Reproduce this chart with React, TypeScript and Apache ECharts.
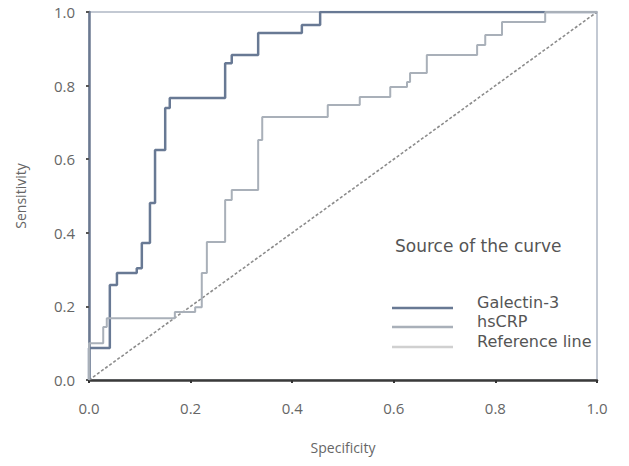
import React, { useEffect, useRef } from "react";
import * as echarts from "echarts";

const xTicks = [0, 0.2, 0.4, 0.6, 0.8, 1.0];
const galectinX = [0, 0, 0.041, 0.041, 0.055, 0.055, 0.094, 0.094, 0.104, 0.104, 0.12, 0.12, 0.13, 0.13, 0.15, 0.15, 0.159, 0.159, 0.268, 0.268, 0.281, 0.281, 0.333, 0.333, 0.419, 0.419, 0.455, 0.455, 1.0];
const galectinY = [0, 0.087, 0.087, 0.258, 0.258, 0.291, 0.291, 0.304, 0.304, 0.372, 0.372, 0.481, 0.481, 0.625, 0.625, 0.739, 0.739, 0.766, 0.766, 0.861, 0.861, 0.883, 0.883, 0.943, 0.943, 0.965, 0.965, 1.0, 1.0];
const hsCrpX = [0, 0, 0.028, 0.028, 0.035, 0.035, 0.169, 0.169, 0.209, 0.209, 0.222, 0.222, 0.232, 0.232, 0.268, 0.268, 0.281, 0.281, 0.333, 0.333, 0.341, 0.341, 0.47, 0.47, 0.533, 0.533, 0.593, 0.593, 0.626, 0.626, 0.632, 0.632, 0.665, 0.665, 0.764, 0.764, 0.78, 0.78, 0.813, 0.813, 0.898, 0.898, 1.0];
const hsCrpY = [0, 0.1, 0.1, 0.144, 0.144, 0.168, 0.168, 0.185, 0.185, 0.198, 0.198, 0.291, 0.291, 0.375, 0.375, 0.489, 0.489, 0.516, 0.516, 0.652, 0.652, 0.715, 0.715, 0.747, 0.747, 0.769, 0.769, 0.796, 0.796, 0.81, 0.81, 0.834, 0.834, 0.883, 0.883, 0.91, 0.91, 0.9375, 0.9375, 0.973, 0.973, 1.0, 1.0];
const referenceX = [0, 1];
const referenceY = [0, 1];
const legendTitle = "Source of the curve";
const seriesNames = ["Galectin-3", "hsCRP", "Reference line"];
const xAxisName = "Specificity";
const yAxisName = "Sensitivity";

const COLORS = ["#687994", "#a9b0b9", "#d0d0d0"];
const FONT = "Open Sans";
const LEGEND_FONT = "DejaVu Sans";

function zip(xs: number[], ys: number[]) {
  return xs.map((x, i) => [x, ys[i]]);
}

export default function App() {
  const ref = useRef<HTMLDivElement>(null);
  useEffect(() => {
    if (!ref.current) return;
    const chart = echarts.init(ref.current, null, { renderer: "svg" });
    const legendLineX0 = 392;
    const legendLineX1 = 453;
    const legendYs = [308, 327, 347];
    chart.setOption({
      animation: false,
      backgroundColor: "#ffffff",
      grid: {
        left: 89,
        right: 32,
        top: 12,
        bottom: 86,
        show: true,
        borderColor: "#c3c9d3",
        borderWidth: 2,
      },
      xAxis: {
        type: "value",
        min: 0,
        max: 1,
        interval: 0.2,
        name: xAxisName,
        nameLocation: "middle",
        nameGap: 60,
        nameTextStyle: { color: "#666", fontSize: 14, fontFamily: FONT },
        axisLine: { show: true, lineStyle: { color: "#3a3a3a", width: 2.5 } },
        axisTick: { show: true, length: 3, lineStyle: { color: "#333", width: 2 } },
        splitLine: { show: false },
        axisLabel: {
          color: "#666",
          fontSize: 15,
          fontFamily: FONT,
          margin: 20,
          formatter: (v: number) => (xTicks.includes(v) ? v.toFixed(1) : ""),
        },
      },
      yAxis: {
        type: "value",
        min: 0,
        max: 1,
        interval: 0.2,
        name: yAxisName,
        nameLocation: "middle",
        nameGap: 62,
        nameRotate: 90,
        nameTextStyle: { color: "#666", fontSize: 14, fontFamily: FONT },
        axisLine: { show: true, lineStyle: { color: "#6b7890", width: 2.5 } },
        axisTick: { show: true, length: 3, lineStyle: { color: "#555", width: 2 } },
        splitLine: { show: false },
        axisLabel: {
          color: "#666",
          fontSize: 15,
          fontFamily: FONT,
          margin: 14,
          formatter: (v: number) => v.toFixed(1),
        },
      },
      series: [
        {
          name: seriesNames[2],
          type: "line",
          data: zip(referenceX, referenceY),
          showSymbol: false,
          lineStyle: { color: "#8c8c8c", width: 1.6, type: [3, 2] },
          z: 1,
        },
        {
          name: seriesNames[0],
          type: "line",
          data: zip(galectinX, galectinY),
          showSymbol: false,
          lineStyle: { color: COLORS[0], width: 2.5 },
          z: 3,
        },
        {
          name: seriesNames[1],
          type: "line",
          data: zip(hsCrpX, hsCrpY),
          showSymbol: false,
          lineStyle: { color: COLORS[1], width: 2 },
          z: 4,
        },
      ],
      graphic: [
        {
          type: "text",
          left: 395,
          top: 237,
          style: { text: legendTitle, fill: "#555", fontSize: 17, fontFamily: LEGEND_FONT },
        },
        ...seriesNames.map((name, i) => ({
          type: "line",
          shape: { x1: legendLineX0, y1: legendYs[i], x2: legendLineX1, y2: legendYs[i] },
          style: { stroke: COLORS[i], lineWidth: 2.5 },
        })),
        ...seriesNames.map((name, i) => ({
          type: "text",
          left: 477,
          top: legendYs[i] - 14,
          style: { text: name, fill: "#555", fontSize: 16, fontFamily: LEGEND_FONT },
        })),
      ],
    });
    return () => chart.dispose();
  }, []);
  return (
    <div
      ref={ref}
      style={{ position: "fixed", left: 0, top: 0, width: 629, height: 466 }}
    />
  );
}
